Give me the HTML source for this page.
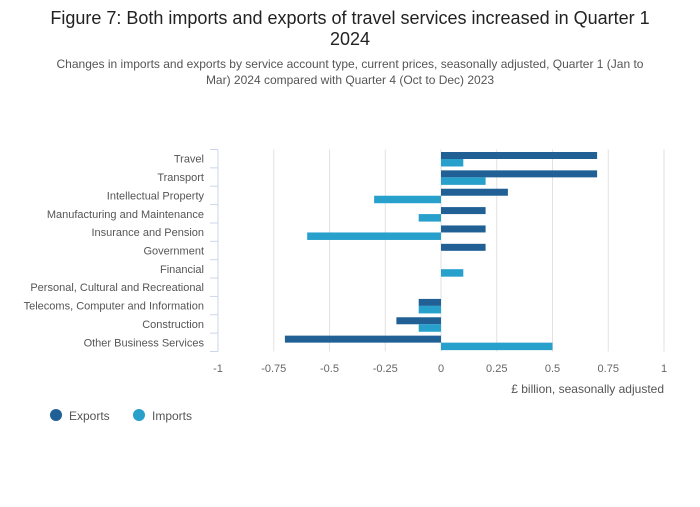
<!DOCTYPE html>
<html><head><meta charset="utf-8"><style>
body{margin:0;background:#fff;width:700px;height:502px;overflow:hidden;font-family:"Liberation Sans",sans-serif}
</style></head><body>
<svg id="c" width="700" height="502" font-family="Liberation Sans, sans-serif">
<text x="350" y="24" text-anchor="middle" font-size="18" fill="#222">Figure 7: Both imports and exports of travel services increased in Quarter 1</text>
<text x="350" y="45" text-anchor="middle" font-size="18" fill="#222">2024</text>
<text x="350" y="68" text-anchor="middle" font-size="12" fill="#555">Changes in imports and exports by service account type, current prices, seasonally adjusted, Quarter 1 (Jan to</text>
<text x="350" y="84" text-anchor="middle" font-size="12" fill="#555">Mar) 2024 compared with Quarter 4 (Oct to Dec) 2023</text>
<g id="grid"></g><g id="bars"></g><g id="axes"></g>
<text x="664" y="393" text-anchor="end" font-size="12" fill="#555">£ billion, seasonally adjusted</text>
<g><circle cx="56" cy="415" r="6" fill="#206095"/><text x="69" y="420" font-size="12" fill="#555">Exports</text></g>
<g><circle cx="139" cy="415" r="6" fill="#27a0cc"/><text x="152" y="420" font-size="12" fill="#555">Imports</text></g>
</svg>
<script>
const categories=["Travel","Transport","Intellectual Property","Manufacturing and Maintenance","Insurance and Pension","Government","Financial","Personal, Cultural and Recreational","Telecoms, Computer and Information","Construction","Other Business Services"];
const exportsVals=[0.7,0.7,0.3,0.2,0.2,0.2,0,0,-0.1,-0.2,-0.7];
const importsVals=[0.1,0.2,-0.3,-0.1,-0.6,0,0.1,0,-0.1,-0.1,0.5];
const ticks=[-1,-0.75,-0.5,-0.25,0,0.25,0.5,0.75,1];
const NS="http://www.w3.org/2000/svg";
const x=v=>441+v*223;
const top0=149.5,rowH=(351.5-149.5)/categories.length;
function mk(t,a,p){const e=document.createElementNS(NS,t);for(const k in a)e.setAttribute(k,a[k]);document.getElementById(p).appendChild(e);return e;}
ticks.forEach(t=>{
 if(t>-1){const l=mk('line',{x1:x(t),x2:x(t),y1:top0,y2:351.5,stroke:'#e2e2e2'},'grid');
 
 }
 const tx=mk('text',{x:x(t),y:372,'text-anchor':'middle','font-size':11,fill:'#666'},'axes');tx.textContent=t;
 
 
});
mk('line',{x1:218,x2:218,y1:top0,y2:351.5,stroke:'#ccd6eb'},'axes');
for(let i=0;i<=categories.length;i++){mk('line',{x1:210,x2:218,y1:top0+i*rowH,y2:top0+i*rowH,stroke:'#ccd6eb'},'axes');}
categories.forEach((c,i)=>{
 const y0=top0+i*rowH;
 const t=mk('text',{x:204,y:y0+rowH/2+4,'text-anchor':'end','font-size':11,fill:'#555'},'axes');t.textContent=c;
 
 
 const e=exportsVals[i],m=importsVals[i];
 const b1=mk('rect',{x:Math.min(x(0),x(e)),y:y0+2.5,width:Math.abs(x(e)-x(0)),height:7,fill:'#206095'},'bars');
 
 
 const b2=mk('rect',{x:Math.min(x(0),x(m)),y:y0+9.5,width:Math.abs(x(m)-x(0)),height:7.5,fill:'#27a0cc'},'bars');
 
 
});
</script>
</body></html>
